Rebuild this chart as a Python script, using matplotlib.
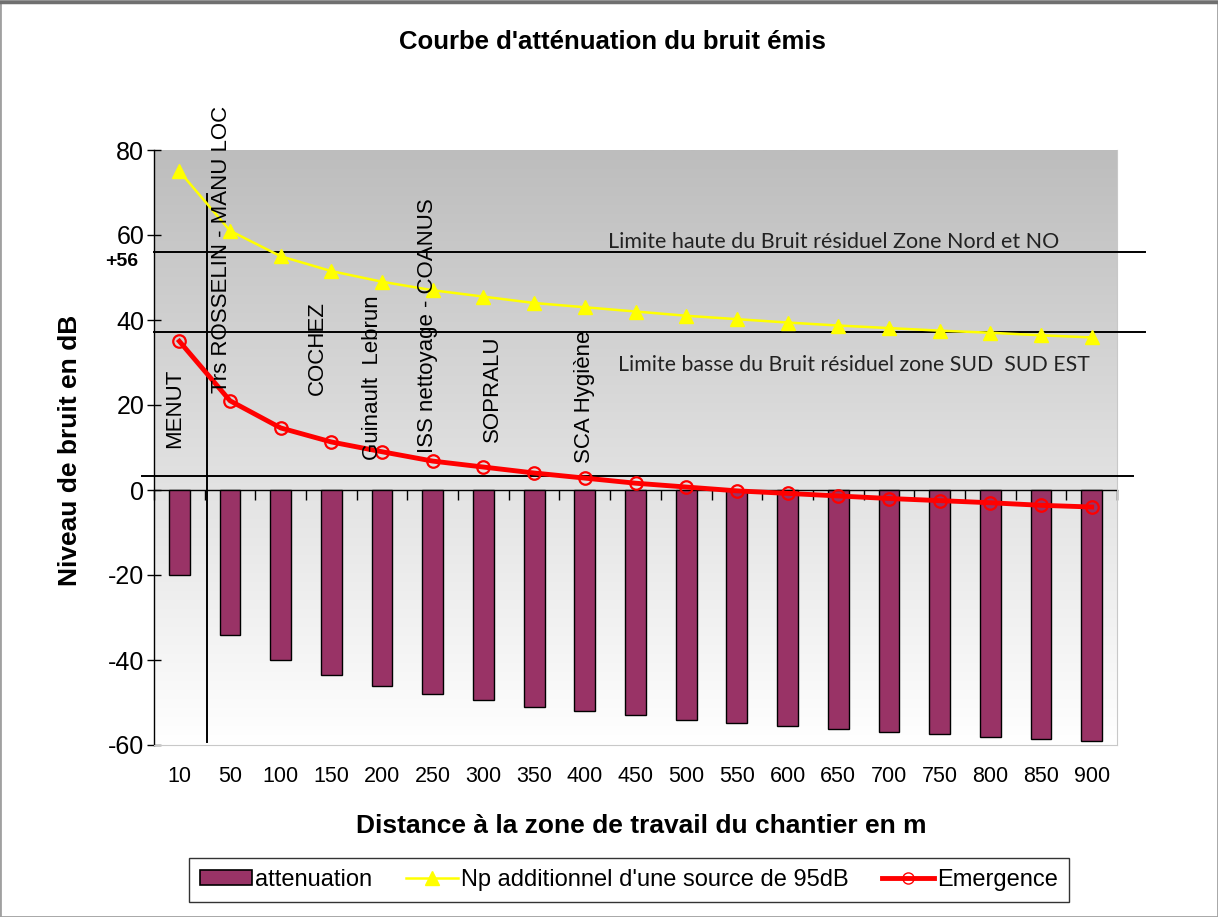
import numpy as np
import matplotlib
matplotlib.use("Agg")
import matplotlib.pyplot as plt
from matplotlib.patches import Rectangle
from matplotlib.lines import Line2D
from matplotlib.colors import LinearSegmentedColormap

plt.rcParams['font.family'] = ['Liberation Sans', 'DejaVu Sans']
plt.rcParams['axes.unicode_minus'] = False

# Distances (m) from the work zone
distances = ["10", "50", "100", "150", "200", "250", "300", "350", "400", "450",
             "500", "550", "600", "650", "700", "750", "800", "850", "900"]

# Noise attenuation (dB)
attenuation = [-20, -34, -40, -43.5, -46, -48, -49.5, -51, -52, -53,
               -54, -54.8, -55.6, -56.3, -56.9, -57.5, -58.1, -58.6, -59.1]

# Level of a 95 dB source after attenuation (dB)
np_source = [75, 61, 55, 51.5, 49, 47, 45.5, 44, 43, 42,
             41, 40.2, 39.4, 38.7, 38.1, 37.5, 37, 36.4, 35.9]

# Emergence over residual noise (dB)
emergence = [35, 21, 14.6, 11.3, 9, 6.8, 5.4, 4, 2.8, 1.6,
             0.7, -0.2, -0.8, -1.4, -2, -2.5, -3, -3.6, -4]

# Neighbouring companies
companies = ["MENUT", "Trs ROSSELIN - MANU LOC", "COCHEZ", "Guinault  Lebrun",
             "ISS nettoyage - COANUS", "SOPRALU", "SCA Hygiène"]

# Residual noise reference levels (dB)
upper_limit = 56
lower_limit = 37.2
floor_level = 3.2

legend_labels = ["attenuation", "Np additionnel d'une source de 95dB", "Emergence"]

BAR_COLOR = "#993366"
YMIN, YMAX = -60, 80

fig = plt.figure(figsize=(12.18, 9.17), dpi=100)
ax = fig.add_axes([154 / 1218, 1 - 745 / 917, 963 / 1218, 595 / 917])

x = np.arange(len(distances))

# vertical grey-to-white background of the plot area
bg = LinearSegmentedColormap.from_list("bg", ["#bdbdbd", "#ffffff"])
ax.imshow(np.linspace(0, 1, 256).reshape(-1, 1), cmap=bg, aspect="auto",
          extent=(0, 1, 0, 1), transform=ax.transAxes, zorder=0)

ax.bar(x, attenuation, width=0.41, color=BAR_COLOR, edgecolor="black",
       linewidth=1.0, zorder=3)
ax.plot(x, np_source, color="#ffff00", lw=1.8, marker="^", markersize=10,
        markerfacecolor="#ffff00", markeredgecolor="#ffff00", zorder=5)
ax.plot(x, emergence, color="#ff0000", lw=3.5, marker="o", markersize=9,
        markerfacecolor="none", markeredgecolor="#ff0000", markeredgewidth=1.6,
        zorder=6)

ax.set_xlim(-0.5, len(distances) - 0.5)
ax.set_ylim(YMIN, YMAX)

# reference lines
tr = ax.get_yaxis_transform()
for lvl, x0, x1 in [(upper_limit, 0.0, 1.029), (lower_limit, 0.0, 1.029),
                    (floor_level, -0.012, 1.017)]:
    ax.plot([x0, x1], [lvl, lvl], color="black", lw=1.4, transform=tr,
            clip_on=False, zorder=4)
ax.plot([0.546, 0.546], [69.6, -59.3], color="black", lw=1.4, zorder=4)

ax.text(8.46, 58.4, "Limite haute du Bruit résiduel Zone Nord et NO",
        family=["Lato", "DejaVu Sans"], fontsize=15.5, color="#222222",
        ha="left", va="center", zorder=7)
ax.text(8.66, 29.4, "Limite basse du Bruit résiduel zone SUD  SUD EST",
        family=["Lato", "DejaVu Sans"], fontsize=15.3, color="#222222",
        ha="left", va="center", zorder=7)

# company names along the distance axis
company_pos = [(-0.09, 9.9), (0.84, 22.8), (2.72, 22.4), (3.82, 7.1),
               (4.89, 8.7), (6.17, 11.3), (8.0, 6.4)]
for name, (cx, cy) in zip(companies, company_pos):
    ax.text(cx, cy, name, rotation=90, ha="center", va="bottom",
            fontsize=16, color="black", zorder=7)

# axes styling
ax.spines["top"].set_visible(False)
for s in ["right", "bottom"]:
    ax.spines[s].set_color("#c8c8c8")
ax.spines["left"].set_color("black")
ax.spines["left"].set_linewidth(1.0)

ax.set_yticks(range(YMIN, YMAX + 1, 20))
ax.tick_params(axis="y", direction="inout", length=10, width=1, labelsize=18,
               pad=2, colors="black")
ax.annotate("+56", xy=(0, upper_limit), xycoords=tr, xytext=(-11, -1),
            textcoords="offset points", ha="right", va="top",
            fontsize=14, fontweight="bold")

ax.set_xticks(x, distances)
ax.tick_params(axis="x", length=0, pad=15, labelsize=15.5)

# category axis crossing at zero
zero_loc = (0 - YMIN) / (YMAX - YMIN)
sec = ax.secondary_xaxis(zero_loc)
sec.set_xticks(np.arange(-0.5, len(distances), 1.0))
sec.set_xticklabels([])
sec.tick_params(direction="out", length=7, width=1, colors="black")
sec.spines["bottom"].set_color("black")
sec.spines["bottom"].set_linewidth(1.0)

fig.text(612 / 1218, 1 - 42 / 917, "Courbe d'atténuation du bruit émis",
         ha="center", va="center", fontsize=18.5, fontweight="bold")
fig.text(70 / 1218, 1 - 450 / 917, "Niveau de bruit en dB", rotation=90,
         ha="center", va="center", fontsize=19, fontweight="bold")
fig.text(641 / 1218, 1 - 826 / 917,
         "Distance à la zone de travail du chantier en m",
         ha="center", va="center", fontsize=19, fontweight="bold")

handles = [
    Rectangle((0, 0), 1, 1, facecolor=BAR_COLOR, edgecolor="black", lw=1.2),
    Line2D([], [], color="#ffff00", lw=1.8, marker="^", markersize=10,
           markerfacecolor="#ffff00", markeredgecolor="#ffff00"),
    Line2D([], [], color="#ff0000", lw=3.5, marker="o", markersize=8,
           markerfacecolor="none", markeredgecolor="#ff0000"),
]
leg = fig.legend(handles, legend_labels, loc="center",
                 bbox_to_anchor=(629 / 1218, 1 - 880 / 917), ncol=3,
                 frameon=True, fancybox=False, edgecolor="black", fontsize=17,
                 handlelength=2.2, handleheight=0.6, handletextpad=0.15,
                 columnspacing=1.4, borderpad=0.45)
leg.get_frame().set_linewidth(1.0)

# outer frame of the figure
fig.patches.append(Rectangle((0, 0), 1, 1, transform=fig.transFigure,
                             fill=False, edgecolor="#a0a0a0", lw=2))
fig.lines.append(Line2D([0, 1], [0.998, 0.998], transform=fig.transFigure,
                        color="#707070", lw=2.5))

fig.savefig("out.png", dpi=100)
